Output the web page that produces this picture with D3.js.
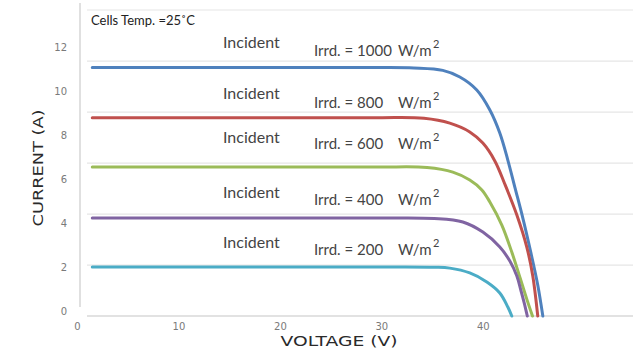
<!DOCTYPE html>
<html>
<head>
<meta charset="utf-8">
<script src="https://cdn.jsdelivr.net/npm/d3@7"></script>
<style>
  html, body { margin: 0; padding: 0; background: #fff; }
  svg { display: block; }
</style>
</head>
<body>
<svg id="chart" width="640" height="353"></svg>
<script>
// ---------------- data ----------------
const voltageTicks = [0, 10, 20, 30, 40];
const currentTicks = [0, 2, 4, 6, 8, 10, 12];
const irradiance = [1000, 800, 600, 400, 200];
const seriesColors = ["#4f81bd", "#c0504d", "#9bbb59", "#8064a2", "#4bacc6"];

// [voltage (V), current (A)]
const curve1000 = [[1.8, 11.31], [20, 11.31], [30, 11.31], [33.5, 11.29], [36.35, 11.18], [38.03, 10.88], [39.7, 10.29], [40.99, 9.38], [41.97, 8.33], [42.76, 7.1], [43.45, 5.87], [44.24, 4.46], [45.02, 2.91], [45.71, 1.41], [46.21, 0]];
const curve800  = [[1.8, 9.03], [20, 9.03], [30, 9.03], [34.5, 9.0], [37.04, 8.78], [39.01, 8.38], [40.3, 7.87], [41.48, 7.06], [42.46, 6.01], [43.65, 4.6], [44.63, 3.14], [45.22, 1.82], [45.71, 0]];
const curve600  = [[1.8, 6.78], [20, 6.78], [30, 6.78], [34.8, 6.76], [37.34, 6.55], [39.01, 6.19], [40.2, 5.74], [40.99, 5.19], [42.17, 4.14], [43.15, 2.91], [43.94, 1.78], [44.63, 0.77], [45.19, 0]];
const curve400  = [[1.8, 4.46], [20, 4.46], [30, 4.46], [35.5, 4.44], [38.33, 4.28], [40.3, 3.82], [41.97, 3.14], [42.96, 2.5], [43.65, 1.82], [44.04, 1.18], [44.38, 0.59], [44.68, 0]];
const curve200  = [[1.8, 2.23], [20, 2.23], [30, 2.23], [35.5, 2.22], [37.04, 2.18], [39.01, 1.96], [40.69, 1.55], [41.97, 1.05], [42.76, 0.41], [43.15, 0]];
const curves = [curve1000, curve800, curve600, curve400, curve200];

const gridValues = [0, 2.32, 4.64, 6.96, 9.28, 11.6, 13.93];
const tempLabel = "Cells Temp. =25˚C";
const xTitle = "VOLTAGE (V)";
const yTitle = "CURRENT (A)";

// ---------------- layout ----------------
const svg = d3.select("#chart");
const x = d3.scaleLinear().domain([0, 55]).range([74, 632]);
const y = d3.scaleLinear().domain([0, 13.93]).range([316, 10]);
const gridLeft = 87, gridRight = 633;

// gridlines
const grid = svg.append("g");
grid.selectAll("line").data(gridValues).join("line")
  .attr("x1", gridLeft).attr("x2", gridRight)
  .attr("y1", d => y(d)).attr("y2", d => y(d))
  .attr("stroke", d => d === 0 ? "#d9d9d9" : "#e6e6e6")
  .attr("stroke-width", d => d === 0 ? 1.5 : 1.2);

// vertical axis line
svg.append("line")
  .attr("x1", 80).attr("x2", 80).attr("y1", 3).attr("y2", 307)
  .attr("stroke", "#d6d6d6").attr("stroke-width", 1.5);

// y tick labels
const yAxis = svg.append("g").attr("transform", "translate(70,-5)")
  .call(d3.axisLeft(y).tickValues(currentTicks).tickSize(0).tickPadding(3).tickFormat(d3.format("d")));
yAxis.select(".domain").remove();
yAxis.selectAll("text").attr("font-family", "DejaVu Sans, sans-serif").attr("font-size", 10).attr("fill", "#7a7a7a");

// x tick labels
const xAxis = svg.append("g").attr("transform", "translate(3,316)")
  .call(d3.axisBottom(x).tickValues(voltageTicks).tickSize(0).tickPadding(7).tickFormat(d3.format("d")));
xAxis.select(".domain").remove();
xAxis.selectAll("text").attr("font-family", "DejaVu Sans, sans-serif").attr("font-size", 10).attr("fill", "#7a7a7a");

// curves
const line = d3.line().x(d => x(d[0])).y(d => y(d[1])).curve(d3.curveCatmullRom.alpha(0.5));
svg.append("g").selectAll("path").data(curves).join("path")
  .attr("d", line)
  .attr("fill", "none")
  .attr("stroke", (d, i) => seriesColors[i])
  .attr("stroke-width", 3)
  .attr("stroke-linecap", "round")
  .attr("stroke-linejoin", "round");

// annotations (positioned relative to each curve's short-circuit current)
const incidentLift = [20, 19, 24, 20, 19];
const irrdLift = [12, 10, 18, 13, 12];
const ann = svg.append("g").attr("font-family", "Lato, 'Open Sans', sans-serif").attr("fill", "#444");
curves.forEach((c, i) => {
  const yb = y(c[0][1]);
  ann.append("text").attr("x", 223).attr("y", yb - incidentLift[i])
    .attr("font-size", 16).text("Incident");
  ann.append("text").attr("x", 314).attr("y", yb - irrdLift[i])
    .attr("font-size", 15).text("Irrd. = " + irradiance[i]);
  ann.append("text").attr("x", 398).attr("y", yb - irrdLift[i])
    .attr("font-size", 15).text("W/m");
  ann.append("text").attr("x", 433).attr("y", yb - irrdLift[i] - 8)
    .attr("font-size", 11).text("2");
});

// temperature note
svg.append("text").attr("x", 91).attr("y", 25)
  .attr("font-family", "Lato, 'Open Sans', sans-serif").attr("font-size", 13)
  .attr("fill", "#222").text(tempLabel);

// axis titles
svg.append("text")
  .attr("transform", "translate(43,168) rotate(-90)")
  .attr("text-anchor", "middle")
  .attr("font-family", "DejaVu Sans, sans-serif").attr("font-size", 14)
  .attr("fill", "#2a2a2a")
  .attr("textLength", 117).attr("lengthAdjust", "spacingAndGlyphs")
  .text(yTitle);
svg.append("text")
  .attr("x", 339).attr("y", 346)
  .attr("text-anchor", "middle")
  .attr("font-family", "DejaVu Sans, sans-serif").attr("font-size", 14)
  .attr("fill", "#2a2a2a")
  .attr("textLength", 117).attr("lengthAdjust", "spacingAndGlyphs")
  .text(xTitle);
</script>
</body>
</html>
